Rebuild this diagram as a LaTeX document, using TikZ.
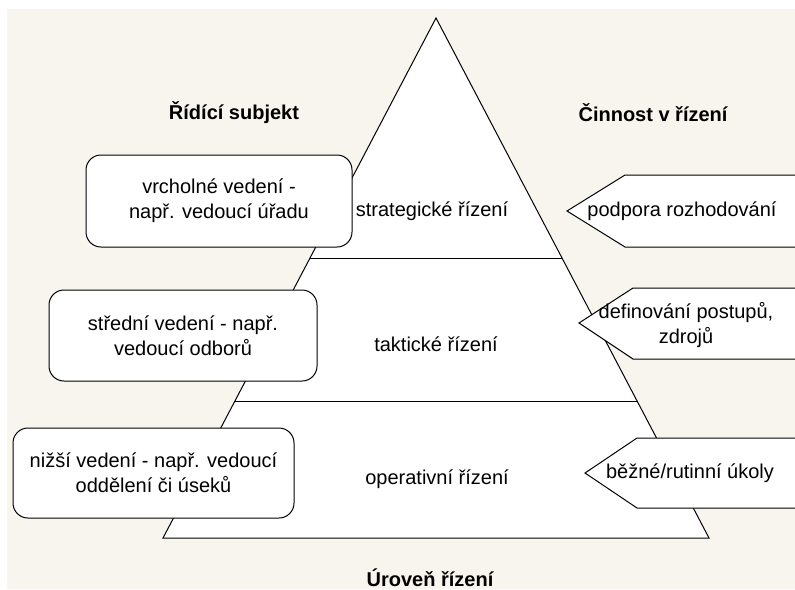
\documentclass[tikz,border=0pt]{standalone}
\usepackage{fontspec}
\setmainfont{Liberation Sans}
\definecolor{cream}{RGB}{248,245,238}
\begin{document}
\begin{tikzpicture}[x=0.5pt,y=-0.5pt,line width=0.5pt,
    every node/.style={font=\fontsize{10}{12.5}\selectfont},
    leader/.style={draw, fill=white, rounded corners=7.5pt, align=center, inner sep=0pt},
    activity/.style={draw, fill=white},
    heading/.style={font=\fontsize{10}{12.5}\selectfont\bfseries}]
  \useasboundingbox (0,0) rectangle (795,589);
  \clip (0,0) rectangle (795,589);
  \fill[cream] (7,9) rectangle (795,589);
  \coordinate (apex) at (436,18);
  \coordinate (baseL) at (163,538);
  \coordinate (baseR) at (709,538);
  \filldraw[fill=white] (apex) -- (baseR) -- (baseL) -- cycle;
  \draw (310,258) -- (562,258);
  \draw (235,401) -- (637,401);
  \node (strat) at (432,211) {strategické řízení};
  \node (takt) at (436,344) {taktické řízení};
  \node (oper) at (437,479) {operativní řízení};
  \node[heading] (subjekt) at (234,113) {Řídící subjekt};
  \node[heading] (cinnost) at (653,113) {Činnost v řízení};
  \node[heading] (uroven) at (430,578) {Úroveň řízení};
  \node[leader, minimum width=133pt, minimum height=46pt] (vrchol) at (219,201) {vrcholné vedení -\\ např. vedoucí úřadu};
  \node[leader, minimum width=134pt, minimum height=45.5pt] (stred) at (183,335.5) {střední vedení - např.\\ vedoucí odborů};
  \node[leader, minimum width=140.5pt, minimum height=45pt] (nizsi) at (153.5,473) {nižší vedení - např. vedoucí\\ oddělení či úseků};
  \draw[activity] (567,211) -- (625,175) -- (800,175) -- (800,247) -- (625,247) -- cycle;
  \draw[activity] (579,323) -- (633,288) -- (800,288) -- (800,359) -- (633,359) -- cycle;
  \draw[activity] (585,473) -- (637,438) -- (800,438) -- (800,508) -- (637,508) -- cycle;
  \node[align=center] (podpora) at (682,211) {podpora rozhodování};
  \node[align=center] (postupy) at (686,325) {definování postupů,\\ zdrojů};
  \node[align=center] (ukoly) at (690,473) {běžné/rutinní úkoly};
\end{tikzpicture}
\end{document}
